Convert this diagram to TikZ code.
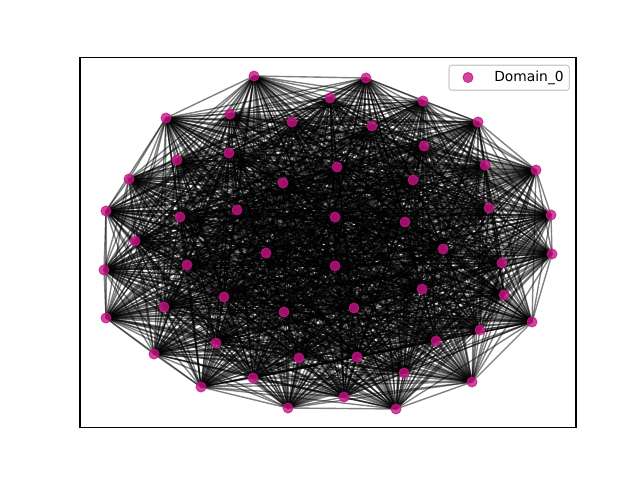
\documentclass[tikz,border=0pt]{standalone}
\usepackage{fontspec}
\setmainfont{DejaVu Sans}
\definecolor{mediumvioletred}{RGB}{199,21,133}
\tikzset{
    edge/.style={line width=1pt, black, opacity=0.5},
    dot/.style={circle, fill=mediumvioletred, draw=mediumvioletred, line width=0.6pt, fill opacity=0.8, draw opacity=0.8, inner sep=0pt, minimum size=7.3pt},
}
\begin{document}
\begin{tikzpicture}[x=0.01in, y=-0.01in]
            % Page is 640 x 480 px
            \useasboundingbox (0,0) rectangle (640,480);

            % Node positions
            \foreach \x/\y [count=\i] in {
                254/76, 366/78, 330/98, 423/101, 230/114, 166/118, 292/122, 372/126,
                478/122, 424/146, 229/153, 177/160, 485/165, 536/170, 337/167, 129/179,
                283/183, 413/180, 106/211, 180/217, 237/210, 335/217, 405/222, 489/208,
                551/215, 135/241, 443/249, 266/253, 552/254, 104/270, 187/265, 335/266,
                502/263, 422/289, 224/297, 504/295, 164/307, 106/318, 284/312, 354/308,
                480/330, 532/322, 216/343, 436/341, 154/354, 299/358, 357/357, 404/373,
                253/378, 472/382, 201/387, 288/408, 344/397, 396/409} {
                \coordinate (n\i) at (\x,\y);
            }

            % Edges (every pair)
            \foreach \i in {1,...,53} {
                \pgfmathtruncatemacro{\k}{\i+1}
                \foreach \j in {\k,...,54} {
                    \draw[edge] (n\i) -- (n\j);
                }
            }

            % Nodes on top
            \foreach \i in {1,...,54} {
                \node[dot] (d\i) at (n\i) {};
            }

            % Axes frame
            \draw[line width=0.8pt] (80,57.6) rectangle (576,427.2);

            % Legend
            \draw[rounded corners=2pt, draw=black!20, fill=white, fill opacity=0.8, line width=0.8pt] (449,65.3) rectangle (569.3,90.3);
            \node[dot] (key) at (468,77.5) {};
            \node[anchor=west, inner sep=0pt, font=\fontsize{10}{12}\selectfont] (keytext) at (494,77.5) {Domain\_0};
        \end{tikzpicture}
\end{document}
